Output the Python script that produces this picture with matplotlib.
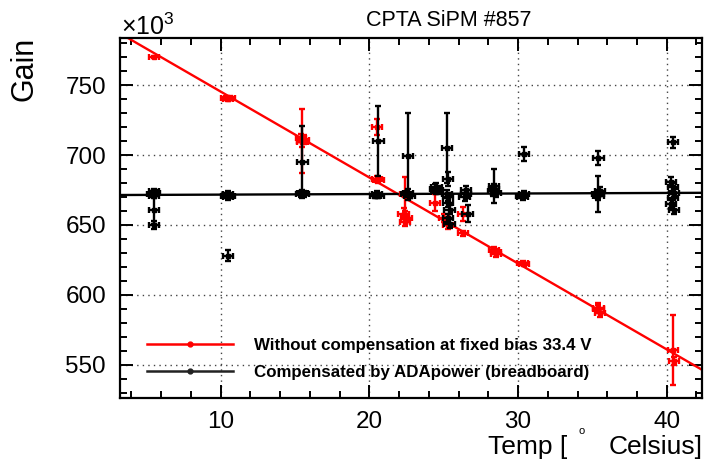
import matplotlib
matplotlib.use("Agg")
import matplotlib.pyplot as plt
from matplotlib.lines import Line2D
from matplotlib.ticker import MultipleLocator

plt.rcParams['font.family'] = ['Liberation Sans', 'DejaVu Sans']
plt.rcParams['mathtext.fontset'] = 'custom'
plt.rcParams['mathtext.rm'] = 'Liberation Sans'

# ---- data (Gain in units of 10^3) ----
red_T = [5.5, 10.4, 10.5, 10.6, 15.4, 15.5, 15.6, 15.5, 20.5, 20.5, 20.6,
         22.3, 22.4, 22.5, 22.4, 24.4, 25.0, 25.3, 26.3, 26.3, 28.4, 28.5,
         28.5, 30.3, 30.4, 35.4, 35.5, 35.4, 40.4, 40.5]
red_G = [770, 741, 740, 741, 712, 709, 711, 710, 720, 683, 682,
         658, 652, 655, 672, 666, 655, 650, 658, 644, 632, 629,
         631, 623, 622, 590, 587, 591, 561, 553]
red_err = [1, 1.5, 1.5, 1.5, 3, 3, 3, 23, 6, 2, 2,
           4, 3, 3, 12, 6, 3, 3, 5, 2, 2, 2,
           2, 1, 1, 3, 3, 3, 25, 3]

blk_T = [5.4, 5.5, 5.6, 5.5, 5.5, 5.5,
         10.4, 10.5, 10.6, 10.5, 10.5,
         15.4, 15.5, 15.6, 15.5,
         20.4, 20.5, 20.6, 20.6,
         22.5, 22.6, 22.7, 22.6,
         24.4, 24.5, 24.6, 24.5,
         25.2, 25.3, 25.2, 25.3, 25.4, 25.3, 25.4, 25.3,
         26.5, 26.4, 26.5, 26.6,
         28.3, 28.4, 28.5, 28.4,
         30.2, 30.3, 30.4, 30.4,
         35.3, 35.4, 35.5, 35.4, 35.4,
         40.3, 40.4, 40.5, 40.4, 40.3, 40.5, 40.4]
blk_G = [672, 671, 673, 674, 661, 650,
         671, 672, 671, 670, 628,
         672, 673, 672, 695,
         671, 672, 671, 710,
         672, 673, 671, 699,
         676, 677, 675, 674,
         705, 683, 672, 670, 661, 655, 651, 666,
         672, 670, 675, 658,
         674, 676, 673, 678,
         671, 670, 672, 701,
         672, 671, 674, 672, 698,
         681, 677, 673, 669, 665, 661, 709]
blk_err = [2, 2, 2, 2, 10, 3,
           2, 2, 2, 2, 4,
           2, 2, 2, 26,
           2, 2, 2, 25,
           2, 3, 2, 31,
           3, 3, 3, 2,
           25, 5, 3, 3, 3, 3, 3, 3,
           3, 3, 3, 6,
           3, 3, 3, 12,
           2, 2, 2, 5,
           3, 3, 3, 13, 5,
           3, 3, 3, 3, 3, 3, 4]
t_err = 0.35

red_fit = [806.7, -6.14]   # intercept, slope
blk_fit = [671.3, 0.04]

labels = ["Without compensation at fixed bias 33.4 V",
          "Compensated by ADApower (breadboard)"]
title = "CPTA SiPM #857"

# ---- figure ----
fig = plt.figure(figsize=(7.05, 4.69), dpi=100)
W, H = 705, 469
ax = fig.add_axes([120 / W, 71 / H, 582 / W, 360 / H])
ax.set_xlim(3.227, 42.37)
ax.set_ylim(526.4, 783.6)

ax.axline((0, red_fit[0]), slope=red_fit[1], color='#ff0000', lw=1.7, zorder=2)
ax.axline((0, blk_fit[0]), slope=blk_fit[1], color='black', lw=1.7, zorder=2)

ax.errorbar(red_T, red_G, xerr=t_err, yerr=red_err, fmt='s', ms=3,
            color='#ff0000', ecolor='#ff0000', elinewidth=1.7, capsize=2.5,
            capthick=1.7, zorder=3)
ax.errorbar(blk_T, blk_G, xerr=t_err, yerr=blk_err, fmt='s', ms=3,
            color='black', ecolor='black', elinewidth=1.7, capsize=2.5,
            capthick=1.7, zorder=4)

ax.xaxis.set_major_locator(MultipleLocator(10))
ax.xaxis.set_minor_locator(MultipleLocator(2))
ax.yaxis.set_major_locator(MultipleLocator(50))
ax.yaxis.set_minor_locator(MultipleLocator(10))
ax.grid(True, which='major', color='#444444', lw=1.0, ls=(0, (1, 3)))
ax.set_axisbelow(True)
ax.tick_params(which='both', direction='in', top=True, right=True,
               width=1.4, labelsize=17.5)
ax.tick_params(which='major', length=9.5)
ax.tick_params(which='minor', length=5)
ax.tick_params(axis='y', pad=10)
ax.tick_params(axis='x', pad=9)
for s in ax.spines.values():
    s.set_linewidth(1.6)

# legend
handles = [Line2D([], [], color='#ff0000', lw=1.8, marker='o', ms=3.5),
           Line2D([], [], color='#222222', lw=1.8, marker='o', ms=3.5)]
ax.legend(handles, labels, loc='upper left',
          bbox_to_anchor=(147 / W, 1 - 338 / H), bbox_transform=fig.transFigure,
          frameon=False, borderpad=0, borderaxespad=0, handlelength=5.1,
          handletextpad=1.2, labelspacing=0.7,
          prop={'size': 12.2, 'weight': 'bold'})

# texts
fig.text(449 / W, 1 - 10 / H, title, ha='center', va='top', fontsize=15.5)
fig.text(25 / W, 1 - 37 / H, "Gain", rotation=90, ha='center', va='top',
         fontsize=22)
fig.text(121 / W, 1 - 35 / H, r"$\times$10$^{3}$", ha='left', va='baseline',
         fontsize=18)
fig.text(703 / W, 1 - 454 / H, "Celsius]", ha='right', va='baseline',
         fontsize=19)
fig.text(567 / W, 1 - 454 / H, "Temp [", ha='right', va='baseline',
         fontsize=19)
fig.text(582 / W, 1 - 431 / H, "o", ha='center', va='center', fontsize=8)

fig.savefig("out.png", dpi=100)
